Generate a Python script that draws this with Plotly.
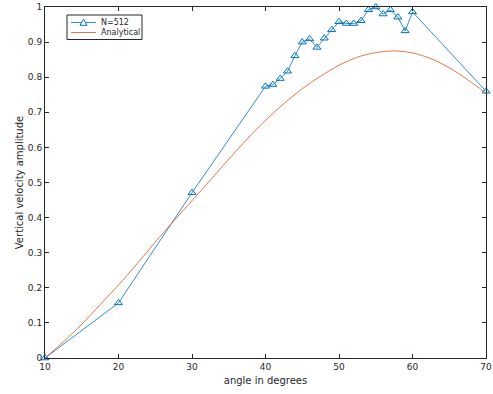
import plotly.graph_objects as go

# Numerical result (N=512)
angles_num = [10, 20, 30, 40, 41, 42, 43, 44, 45, 46, 47, 48, 49, 50, 51, 52, 53, 54, 55, 56, 57, 58, 59, 60, 70]
amp_num = [0.0, 0.157, 0.471, 0.774, 0.779, 0.796, 0.817, 0.861, 0.900, 0.909, 0.885, 0.911, 0.935, 0.958,
           0.953, 0.953, 0.961, 0.992, 1.0, 0.980, 0.992, 0.971, 0.932, 0.986, 0.760]

# Analytical curve
angles_an = [10, 12.5, 15, 17.5, 20, 22.5, 25, 27.5, 30, 32.5, 35, 37.5, 40, 42.5, 45, 47.5, 50, 52.5, 55, 57.5, 60, 62.5, 65, 67.5, 70]
amp_an = [0.0, 0.046, 0.096, 0.152, 0.208, 0.268, 0.330, 0.390, 0.448, 0.507, 0.566, 0.624, 0.677, 0.725, 0.767,
          0.803, 0.834, 0.857, 0.870, 0.875, 0.869, 0.853, 0.827, 0.793, 0.755]

series_names = ["N=512", "Analytical"]

xticks = [10, 20, 30, 40, 50, 60, 70]
yticks = [0, 0.1, 0.2, 0.3, 0.4, 0.5, 0.6, 0.7, 0.8, 0.9, 1]
ytick_text = ["0", "0.1", "0.2", "0.3", "0.4", "0.5", "0.6", "0.7", "0.8", "0.9", "1"]

BLUE = "#0072BD"
ORANGE = "#D95319"
AX = "#262626"
FONT = "DejaVu Sans"

W, H = 493, 394
ML, MR, MT, MB = 45, 7, 7, 36
PW, PH = W - ML - MR, H - MT - MB


def px(x):
    return (x - ML) / PW


def py(y):
    return (H - MB - y) / PH


fig = go.Figure()
fig.add_trace(go.Scatter(
    x=angles_num, y=amp_num, mode="lines+markers", name=series_names[0],
    line=dict(color=BLUE, width=0.8),
    marker=dict(symbol="triangle-up-open", size=7, color=BLUE, line=dict(width=1)),
    cliponaxis=False, showlegend=False,
))
fig.add_trace(go.Scatter(
    x=angles_an, y=amp_an, mode="lines", name=series_names[1],
    line=dict(color=ORANGE, width=0.8, shape="spline", smoothing=0.8),
    showlegend=False,
))

# Legend box drawn like the MATLAB legend
shapes = [
    dict(type="rect", xref="paper", yref="paper", x0=px(67), x1=px(142), y0=py(15), y1=py(39.5),
         line=dict(color=AX, width=1), fillcolor="white", layer="above"),
    dict(type="line", xref="paper", yref="paper", x0=px(71), x1=px(96), y0=py(22.5), y1=py(22.5),
         line=dict(color=BLUE, width=0.8), layer="above"),
    dict(type="path", xref="paper", yref="paper", layer="above",
         path="M {} {} L {} {} L {} {} Z".format(px(83.5), py(19.2), px(80), py(25.3), px(87), py(25.3)),
         line=dict(color=BLUE, width=1), fillcolor="white"),
    dict(type="line", xref="paper", yref="paper", x0=px(71), x1=px(96), y0=py(32.5), y1=py(32.5),
         line=dict(color=ORANGE, width=0.8), layer="above"),
]
annotations = [
    dict(text=series_names[0], xref="paper", yref="paper", x=px(98.5), y=py(22.5),
         xanchor="left", yanchor="middle", showarrow=False, font=dict(family=FONT, size=8, color=AX)),
    dict(text=series_names[1], xref="paper", yref="paper", x=px(98.5), y=py(32.5),
         xanchor="left", yanchor="middle", showarrow=False, font=dict(family=FONT, size=8, color=AX)),
]

axis_common = dict(
    showgrid=False, zeroline=False, showline=True, linecolor=AX, linewidth=1,
    mirror="ticks", ticks="inside", ticklen=4, tickcolor=AX, automargin=False,
    tickfont=dict(family=FONT, size=9, color=AX),
)
fig.update_layout(
    width=W, height=H,
    paper_bgcolor="white", plot_bgcolor="white",
    margin=dict(l=ML, r=MR, t=MT, b=MB, autoexpand=False),
    font=dict(family=FONT, size=9, color=AX),
    xaxis=dict(range=[10, 70], tickvals=xticks,
               title=dict(text="angle in degrees", font=dict(family=FONT, size=10, color=AX), standoff=6),
               **axis_common),
    yaxis=dict(range=[0, 1], tickvals=yticks, ticktext=ytick_text,
               title=dict(text="Vertical velocity amplitude", font=dict(family=FONT, size=10, color=AX), standoff=2),
               **axis_common),
    shapes=shapes, annotations=annotations,
    showlegend=False,
)
fig.write_html("out.html", config={"displayModeBar": False},
               post_script="document.body.style.margin='0';document.body.style.overflow='hidden';")
